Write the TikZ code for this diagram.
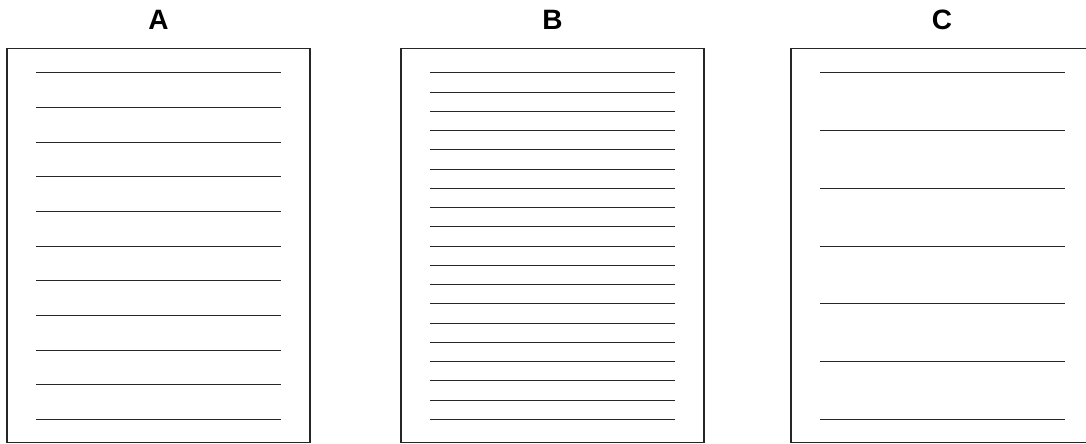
\documentclass[tikz,border=0pt]{standalone}
\usepackage{fontspec}
\setmainfont{Liberation Sans}
\begin{document}
\begin{tikzpicture}[x=1pt,y=-1pt,
  page/.style={draw=black!85,line width=1.4pt},
  rule/.style={draw=black!85,line width=0.9pt},
  lab/.style={font=\fontsize{28}{30}\selectfont\bfseries,anchor=base,inner sep=0pt}]
\useasboundingbox (0,0) rectangle (1086,444);
% labels
\node[lab] (la) at (158.5,30) {A};
\node[lab] (lb) at (552.5,30) {B};
\node[lab] (lc) at (942,30) {C};
% pages
\draw[page] (7,48.5) rectangle (310,442.5);
\draw[page] (401,48.5) rectangle (704,442.5);
\draw[page] (791,48.5) rectangle (1094,442.5);
% rules A: 11 lines
\foreach \i in {0,...,10}
  \draw[rule] (36,{72.8+\i*34.65}) -- (281,{72.8+\i*34.65});
% rules B: 19 lines
\foreach \i in {0,...,18}
  \draw[rule] (430,{72.8+\i*19.25}) -- (675,{72.8+\i*19.25});
% rules C: 7 lines
\foreach \i in {0,...,6}
  \draw[rule] (820,{72.8+\i*57.75}) -- (1065,{72.8+\i*57.75});
\end{tikzpicture}
\end{document}
